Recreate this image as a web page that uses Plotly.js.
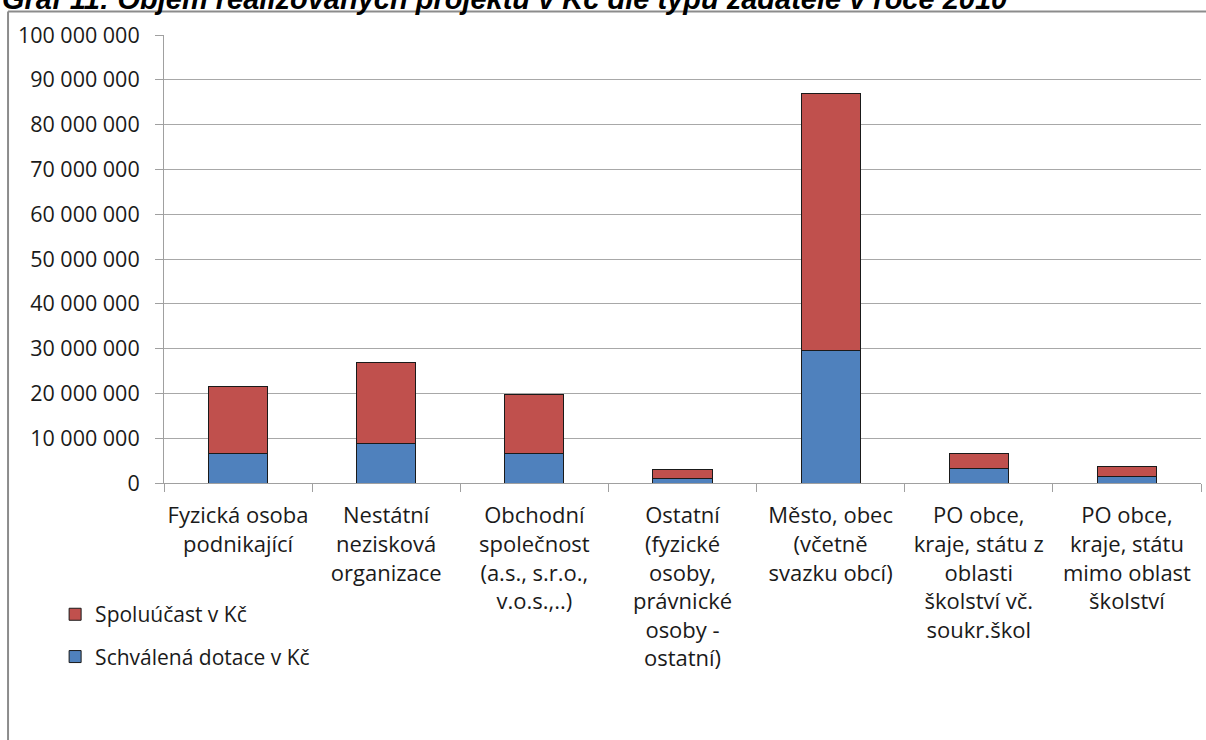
<!DOCTYPE html>
<html>
<head>
<meta charset="utf-8">
<script src="https://cdn.plot.ly/plotly-3.0.1.min.js"></script>
<style>
html,body{margin:0;padding:0;background:#fff;}
#chart{width:1206px;height:740px;}
</style>
</head>
<body>
<div id="chart"></div>
<script>
// Data
var categories = [
  "Fyzická osoba<br>podnikající",
  "Nestátní<br>nezisková<br>organizace",
  "Obchodní<br>společnost<br>(a.s., s.r.o.,<br>v.o.s.,..)",
  "Ostatní<br>(fyzické<br>osoby,<br>právnické<br>osoby -<br>ostatní)",
  "Město, obec<br>(včetně<br>svazku obcí)",
  "PO obce,<br>kraje, státu z<br>oblasti<br>školství vč.<br>soukr.škol",
  "PO obce,<br>kraje, státu<br>mimo oblast<br>školství"
];
var dotace = [6600000, 8800000, 6500000, 1050000, 29500000, 3300000, 1500000];
var spoluucast = [15000000, 18000000, 13200000, 2050000, 57400000, 3300000, 2100000];
var seriesNames = ["Schválená dotace v Kč", "Spoluúčast v Kč"];
var yTicks = [0, 10000000, 20000000, 30000000, 40000000, 50000000, 60000000, 70000000, 80000000, 90000000, 100000000];
var titleText = "Graf 11: Objem realizovaných projektů v Kč dle typu žadatele v roce 2010";

var font = "Open Sans, DejaVu Sans, sans-serif";

var traces = [
  {
    type: "bar", x: categories, y: dotace, name: seriesNames[0],
    marker: {color: "#4F81BD", line: {color: "#1a1a1a", width: 1}},
    width: 0.4, legendgroup: "a", legendrank: 2
  },
  {
    type: "bar", x: categories, y: spoluucast, name: seriesNames[1],
    marker: {color: "#C0504D", line: {color: "#1a1a1a", width: 1}},
    width: 0.4, legendgroup: "b", legendrank: 1
  }
];

var layout = {
  width: 1206, height: 740,
  margin: {l: 164, r: 5, t: 35, b: 257, pad: 0},
  paper_bgcolor: "#fff", plot_bgcolor: "#fff",
  barmode: "stack",
  separators: ", ",
  showlegend: true,
  legend: {
    x: -0.105, y: -0.248, xanchor: "left", yanchor: "top",
    traceorder: "grouped", tracegroupgap: 12,
    font: {family: font, size: 21, color: "#1a1a1a"},
    bgcolor: "rgba(0,0,0,0)", itemwidth: 30
  },
  font: {family: font, size: 21, color: "#1a1a1a"},
  xaxis: {
    type: "category",
    tickson: "boundaries",
    ticks: "outside", ticklen: 8, tickcolor: "#a0a0a0",
    showline: true, linecolor: "#a0a0a0", linewidth: 1,
    showgrid: false,
    tickfont: {family: font, size: 22, color: "#1a1a1a"},
    tickangle: 0,
    ticklabelstandoff: 13,
    fixedrange: true
  },
  yaxis: {
    range: [0, 100000000],
    tickvals: yTicks,
    tickformat: ",d",
    ticks: "outside", ticklen: 8, tickcolor: "#a0a0a0",
    showline: true, linecolor: "#a0a0a0", linewidth: 1,
    showgrid: true, gridcolor: "#a8a8a8", gridwidth: 1,
    zeroline: false,
    tickfont: {family: font, size: 21.5, color: "#1a1a1a"},
    ticklabelstandoff: 11,
    fixedrange: true
  },
  annotations: [{
    text: "<b><i>" + titleText + "</i></b>",
    xref: "paper", yref: "paper",
    x: -0.1585, y: 1.0405, xanchor: "left", yanchor: "bottom",
    showarrow: false,
    font: {family: "Liberation Sans, Arial, sans-serif", size: 29, color: "#000"}
  }],
  shapes: [
    {type: "line", xref: "paper", yref: "paper", x0: -0.1504, x1: 1.05, y0: 1.0525, y1: 1.0525,
     line: {color: "#8c8c8c", width: 2}},
    {type: "line", xref: "paper", yref: "paper", x0: -0.1504, x1: -0.1504, y0: 1.0525, y1: -0.6,
     line: {color: "#8c8c8c", width: 2}}
  ]
};

Plotly.newPlot("chart", traces, layout, {displayModeBar: false, staticPlot: true});
</script>
</body>
</html>
